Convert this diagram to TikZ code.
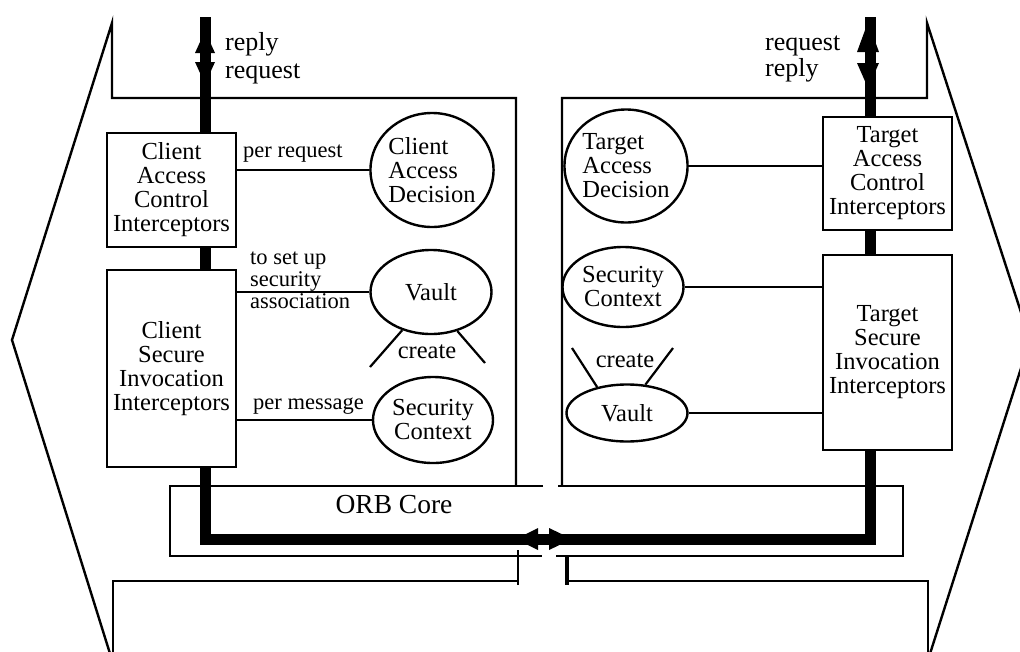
\documentclass[tikz,border=0pt]{standalone}
\usepackage{fontspec}
\setmainfont{Liberation Serif}
\usetikzlibrary{shapes.geometric}
\begin{document}
\begin{tikzpicture}[x=1pt,y=-1pt,
  frame/.style={line width=2.4pt, line join=miter},
  orb/.style={line width=1.8pt},
  bus/.style={line width=11pt, line join=miter},
  box/.style={draw, line width=2.4pt, fill=white, minimum width=129pt, inner sep=1pt, align=center, font=\fontsize{24.5}{24}\selectfont},
  oval/.style={draw, ellipse, line width=2.4pt, fill=white, inner sep=0pt, align=center, font=\fontsize{24.5}{24}\selectfont},
  lbl/.style={inner sep=0pt, anchor=base west, font=\fontsize{22.5}{22}\selectfont},
  dir/.style={inner sep=0pt, anchor=base west, font=\fontsize{26}{28}\selectfont},
  conn/.style={line width=2.2pt},
  thinconn/.style={line width=1.3pt},
  head/.style={fill=black}
]
\useasboundingbox (0,0) rectangle (1020,651);
\clip (0,0) rectangle (1020,651);
\fill[white] (0,0) rectangle (1020,651);

% outer frames
\draw[frame] (112,660) -- (12,340) -- (112,23) -- (112,98) -- (516,98) -- (516,486);
\draw[frame] (928,660) -- (1030,340) -- (927,23) -- (927,98) -- (562,98) -- (562,486);

% ORB core box
\draw[orb] (543,486) -- (170,486) -- (170,556) -- (542,556);
\draw[orb] (558,486) -- (903,486) -- (903,556) -- (556,556);
\node[inner sep=0pt, anchor=base, font=\fontsize{27.5}{28}\selectfont] (orbl) at (394,513) {ORB Core};

% bottom frames
\draw[frame] (113,660) -- (113,581) -- (518,581);
\draw[frame] (518,550) -- (518,585);
\draw[frame] (928,660) -- (928,581) -- (567,581);
\draw[line width=3.5pt] (567,556) -- (567,585);

% coordinates of the bus
\coordinate (lt) at (205,17);
\coordinate (lb) at (205,539);
\coordinate (rb) at (870,539);
\coordinate (rt) at (870,17);

% boxes
\node[box, minimum height=114pt] (cac) at (171.5,190) {Client\\Access\\Control\\Interceptors};
\node[box, minimum height=197pt] (csi) at (171.5,368.5) {Client\\Secure\\Invocation\\Interceptors};
\node[box, minimum height=113pt] (tac) at (887.5,173.5) {Target\\Access\\Control\\Interceptors};
\node[box, minimum height=195pt] (tsi) at (887.5,352.5) {Target\\Secure\\Invocation\\Interceptors};

% bus
\draw[bus] (lt) -- (lt |- cac.north);
\draw[bus] (lt |- cac.south) -- (lt |- csi.north);
\draw[bus] (lt |- csi.south) -- (lb) -- (rb) -- (rt |- tsi.south);
\draw[bus] (rt |- tsi.north) -- (rt |- tac.south);
\draw[bus] (rt |- tac.north) -- (rt);

% arrow heads on the bus
\fill[head] (195,53) -- (205,31) -- (215,53) -- cycle;
\fill[head] (195,62) -- (205,84) -- (215,62) -- cycle;
\fill[head] (857,52) -- (868,22) -- (879,52) -- cycle;
\fill[head] (857,63) -- (868,88) -- (879,63) -- cycle;
\fill[head] (538,528) -- (516,539) -- (538,550) -- cycle;
\fill[head] (549,528) -- (572,539) -- (549,550) -- cycle;

% ellipses
\node[oval, minimum width=120pt, minimum height=114pt, align=left] (cad) at (432,170) {Client\\Access\\Decision};
\node[oval, minimum width=121pt, minimum height=84pt] (vl) at (431,292) {Vault};
\node[oval, minimum width=120pt, minimum height=86pt] (scl) at (433,420) {Security\\Context};
\node[oval, minimum width=118pt, minimum height=113pt, align=left] (tad) at (626,166) {Target\\Access\\Decision};
\node[oval, minimum width=121pt, minimum height=80pt] (scr) at (623,287) {Security\\Context};
\node[oval, minimum width=121pt, minimum height=57pt] (vr) at (627,413) {Vault};

% connectors
\draw[conn] (cac.east |- cad.west) -- (cad.west);
\draw[conn] (csi.east |- vl.west) -- (vl.west);
\draw[conn] (csi.east |- scl.west) -- (scl.west);
\draw[conn] (tad.east) -- (tac.west |- tad.east);
\draw[thinconn] (scr.east) -- (tsi.west |- scr.east);
\draw[conn] (vr.east) -- (tsi.west |- vr.east);

% create strokes
\coordinate (cl1) at (370,367);
\coordinate (cl2) at (485,363);
\coordinate (cr1) at (572,348);
\coordinate (cr2) at (673,348);
\draw[conn] (vl.233) -- (cl1);
\draw[conn] (vl.304) -- (cl2);
\draw[conn] (vr.139) -- (cr1);
\draw[conn] (vr.57) -- (cr2);
\node[inner sep=0pt, anchor=base, font=\fontsize{24.5}{24}\selectfont] (crl) at (427,358) {create};
\node[inner sep=0pt, anchor=base, font=\fontsize{24.5}{24}\selectfont] (crr) at (625,367) {create};

% labels
\node[lbl] (l1) at (243,157) {per request};
\node[lbl] (l2) at (250,264) {to set up};
\node[lbl] (l3) at (250,286) {security};
\node[lbl] (l4) at (250,308) {association};
\node[lbl] (l5) at (253,409) {per message};

\node[dir] (d1) at (225,50) {reply};
\node[dir] (d2) at (225,78) {request};
\node[dir] (d3) at (765,50) {request};
\node[dir] (d4) at (765,76) {reply};
\end{tikzpicture}
\end{document}
